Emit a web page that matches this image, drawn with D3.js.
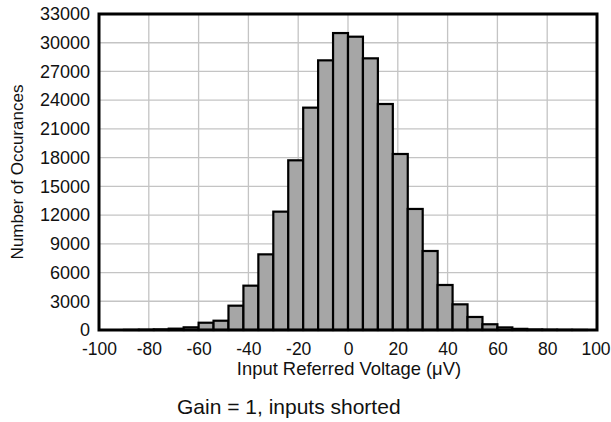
<!DOCTYPE html>
<html><head><meta charset="utf-8">
<script src="https://cdn.jsdelivr.net/npm/d3@7"></script>
<style>body{margin:0;background:#fff}svg{display:block;font-family:"Liberation Sans",Arial,sans-serif}</style>
</head><body>
<script>
const binStarts = [-90,-84,-78,-72,-66,-60,-54,-48,-42,-36,-30,-24,-18,-12,-6,0,6,12,18,24,30,36,42,48,54,60,66,72,78,84,90];
const counts    = [15,30,60,140,280,760,970,2540,4630,7900,12360,17720,23220,28160,31010,30630,28370,23600,18380,12640,8250,4700,2680,1360,600,270,120,50,30,15,10];
const binWidth = 6;
const xTicks = [-100,-80,-60,-40,-20,0,20,40,60,80,100];
const yTicks = [0,3000,6000,9000,12000,15000,18000,21000,24000,27000,30000,33000];
const xTitle = "Input Referred Voltage (\u03bcV)";
const yTitle = "Number of Occurances";
const caption = "Gain = 1, inputs shorted";

const W=611,H=422, L=99, R=597, T=14, B=330;
const svg=d3.select("body").append("svg").attr("width",W).attr("height",H);
const x=d3.scaleLinear().domain([-100,100]).range([L,R]);
const y=d3.scaleLinear().domain([0,33000]).range([B,T]);

const g=svg.append("g");
g.selectAll("line.vg").data(xTicks.slice(1,-1)).join("line")
 .attr("x1",d=>x(d)).attr("x2",d=>x(d)).attr("y1",T).attr("y2",B)
 .attr("stroke","#c4c4c4").attr("stroke-width",1.3);
g.selectAll("line.hg").data(yTicks.slice(1,-1)).join("line")
 .attr("y1",d=>y(d)).attr("y2",d=>y(d)).attr("x1",L).attr("x2",R)
 .attr("stroke","#c4c4c4").attr("stroke-width",1.3);

const data=binStarts.map((s,i)=>({s,c:counts[i]}));
g.selectAll("rect.bar").data(data).join("rect")
 .attr("x",d=>x(d.s)).attr("width",d=>x(d.s+binWidth)-x(d.s))
 .attr("y",d=>y(d.c)).attr("height",d=>y(0)-y(d.c))
 .attr("fill","#a6a6a6").attr("stroke","#000").attr("stroke-width",2.2);

svg.append("rect").attr("x",L).attr("y",T).attr("width",R-L).attr("height",B-T)
 .attr("fill","none").attr("stroke","#000").attr("stroke-width",3);

const xa=svg.append("g").attr("transform",`translate(0,${B})`)
 .call(d3.axisBottom(x).tickValues(xTicks).tickSize(0).tickPadding(13).tickFormat(d3.format("d")));
xa.select(".domain").remove();
xa.selectAll("text").attr("font-size",17.5).attr("fill","#111").attr("font-family","Liberation Sans, Arial, sans-serif")
  .text(d=>d<0?"-"+Math.abs(d):d)
  .attr("dx",d=>d===100?"-1.5":null);

const ya=svg.append("g").attr("transform",`translate(${L},0)`)
 .call(d3.axisLeft(y).tickValues(yTicks).tickSize(0).tickPadding(9).tickFormat(d3.format("d")));
ya.select(".domain").remove();
ya.selectAll("text").attr("font-size",18).attr("fill","#111").attr("font-family","Liberation Sans, Arial, sans-serif");

svg.append("text").attr("x",(L+R)/2+1).attr("y",375).attr("text-anchor","middle")
 .attr("font-size",18.4).attr("fill","#111").text(xTitle);
svg.append("text").attr("transform",`translate(23,${(T+B)/2}) rotate(-90)`).attr("text-anchor","middle")
 .attr("font-size",17).attr("fill","#111").text(yTitle);
svg.append("text").attr("x",177).attr("y",414).attr("text-anchor","start")
 .attr("font-size",21).attr("fill","#111").text(caption);
</script>
</body></html>
